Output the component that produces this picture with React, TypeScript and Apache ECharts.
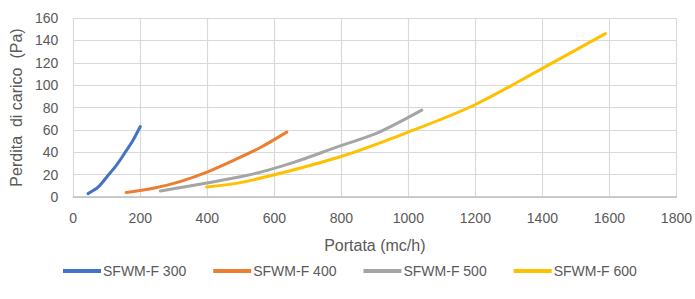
import React, { useEffect, useRef } from "react";
import * as echarts from "echarts";

const seriesNames = ["SFWM-F 300", "SFWM-F 400", "SFWM-F 500", "SFWM-F 600"];
const colors = ["#4472C4", "#ED7D31", "#A5A5A5", "#FFC000"];

const flow300 = [44, 75, 103, 128, 153, 177, 200];
const loss300 = [3, 9, 19, 28, 39, 50, 63];

const flow400 = [158, 242, 321, 401, 480, 560, 637];
const loss400 = [4, 8, 14, 22.5, 33, 44.5, 58];

const flow500 = [260, 520, 658, 790, 906, 1040];
const loss500 = [5.4, 19.4, 31, 45, 57, 77.6];

const flow600 = [398, 510, 797, 1000, 1196, 1400, 1588];
const loss600 = [9, 13.5, 36, 58, 82, 115, 146];

const flows = [flow300, flow400, flow500, flow600];
const losses = [loss300, loss400, loss500, loss600];

const xTitle = "Portata (mc/h)";
const yTitle = "Perdita  di carico  (Pa)";

export default function App() {
  const ref = useRef<HTMLDivElement>(null);
  useEffect(() => {
    if (!ref.current) return;
    const chart = echarts.init(ref.current, null, { renderer: "svg" });
    const font = "'Liberation Sans', Arial, sans-serif";
    const txt = "#595959";
    chart.setOption({
      animation: false,
      textStyle: { fontFamily: font },
      grid: { left: 72, right: 17, top: 18, bottom: 102, containLabel: false },
      legend: {
        left: 58,
        top: 259,
        icon: "rect",
        itemWidth: 38,
        itemHeight: 4,
        itemGap: 27,
        textStyle: { color: txt, fontSize: 14, fontFamily: font, padding: [0, 0, 0, -3] },
        data: seriesNames,
      },
      xAxis: {
        type: "value",
        min: 0,
        max: 1800,
        interval: 200,
        name: xTitle,
        nameLocation: "middle",
        nameGap: 40,
        nameTextStyle: { color: txt, fontSize: 16, fontFamily: font },
        axisLine: { show: true, lineStyle: { color: "#bfbfbf", width: 1.5 } },
        axisTick: { show: false },
        axisLabel: { color: txt, fontSize: 14, margin: 14, fontFamily: font, formatter: (v: number) => String(v) },
        splitLine: { show: true, lineStyle: { color: "#d9d9d9", width: 1.2 } },
      },
      yAxis: {
        type: "value",
        min: 0,
        max: 160,
        interval: 20,
        name: yTitle,
        nameLocation: "middle",
        nameGap: 46,
        nameRotate: 90,
        nameTextStyle: { color: txt, fontSize: 16, fontFamily: font },
        axisLine: { show: false },
        axisTick: { show: false },
        axisLabel: { color: txt, fontSize: 14, margin: 15, fontFamily: font, formatter: (v: number) => String(v) },
        splitLine: { show: true, lineStyle: { color: "#d9d9d9", width: 1.2 } },
      },
      series: seriesNames.map((name, i) => ({
        name,
        type: "line",
        data: flows[i].map((x, j) => [x, losses[i][j]]),
        showSymbol: false,
        symbol: "none",
        smooth: 0.3,
        lineStyle: { color: colors[i], width: 3, cap: "round" },
        itemStyle: { color: colors[i] },
      })),
    });
    return () => chart.dispose();
  }, []);
  return <div ref={ref} style={{ width: 695, height: 299, position: "absolute", left: 0, top: 0 }} />;
}
